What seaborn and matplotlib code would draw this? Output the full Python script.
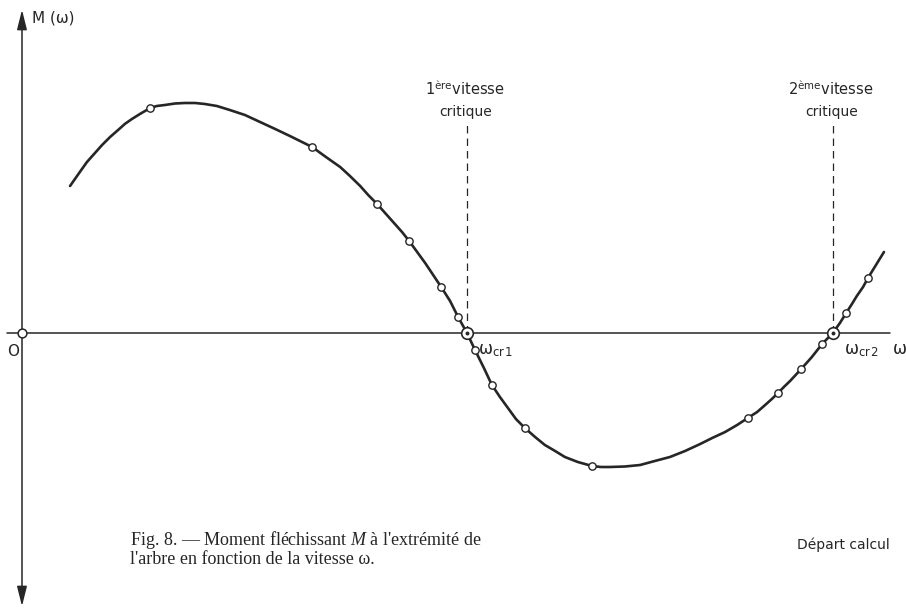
import numpy as np
import pandas as pd
import seaborn as sns
import matplotlib.pyplot as plt

# courbe M(omega), omega rapporté à omega_cr1
omega = [0.108, 0.119, 0.130, 0.146, 0.164, 0.180, 0.198, 0.216, 0.231, 0.247,
         0.265, 0.288, 0.303, 0.321, 0.344, 0.366, 0.389, 0.411, 0.438, 0.467,
         0.501, 0.535, 0.569, 0.602, 0.627, 0.652, 0.683, 0.715, 0.737, 0.760,
         0.778, 0.798, 0.818, 0.838, 0.854, 0.870, 0.888, 0.906, 0.924, 0.942,
         0.962, 0.980, 1.000, 1.018, 1.038, 1.056, 1.074, 1.092, 1.110, 1.130,
         1.153, 1.175, 1.198, 1.220, 1.249, 1.281, 1.301, 1.321, 1.355, 1.389,
         1.422, 1.456, 1.490, 1.524, 1.551, 1.580, 1.607, 1.631, 1.652, 1.670,
         1.685, 1.699, 1.712, 1.726, 1.751, 1.775, 1.798, 1.822, 1.838, 1.852,
         1.865, 1.876, 1.890, 1.901, 1.919, 1.937]
moment = [1.47, 1.54, 1.61, 1.71, 1.80, 1.88, 1.96, 2.03, 2.09, 2.14,
          2.19, 2.25, 2.27, 2.28, 2.295, 2.30, 2.30, 2.29, 2.27, 2.23,
          2.18, 2.11, 2.04, 1.97, 1.915, 1.86, 1.76, 1.66, 1.57, 1.47,
          1.38, 1.29, 1.19, 1.09, 1.01, 0.92, 0.81, 0.70, 0.58, 0.46,
          0.32, 0.16, 0.00, -0.17, -0.35, -0.52, -0.64, -0.75, -0.86, -0.95,
          -1.04, -1.12, -1.18, -1.24, -1.29, -1.33, -1.34, -1.34, -1.335, -1.32,
          -1.28, -1.24, -1.18, -1.11, -1.05, -0.99, -0.92, -0.85, -0.79, -0.72,
          -0.66, -0.60, -0.54, -0.48, -0.36, -0.24, -0.11, 0.00, 0.10, 0.20,
          0.29, 0.37, 0.46, 0.55, 0.68, 0.81]

# points calculés
omega_pts = [0.288, 0.652, 0.798, 0.870, 0.942, 0.980, 1.018, 1.056, 1.130, 1.281,
             1.631, 1.699, 1.751, 1.798, 1.852, 1.901]
moment_pts = [2.25, 1.86, 1.29, 0.92, 0.46, 0.16, -0.17, -0.52, -0.95, -1.33,
              -0.85, -0.60, -0.36, -0.11, 0.20, 0.55]

omega_cr = [1.000, 1.822]
cr_labels = ["1", "2"]
cr_ordinals = ["ère", "ème"]

ink = "#262626"

sns.set_theme(style="white")
plt.rcParams['font.family'] = ['DejaVu Sans']
plt.rcParams['mathtext.fontset'] = 'custom'
plt.rcParams['mathtext.rm'] = 'Liberation Serif'
plt.rcParams['mathtext.it'] = 'Liberation Serif:italic'
plt.rcParams['mathtext.sf'] = 'DejaVu Sans'

fig = plt.figure(figsize=(9.06, 6.14), dpi=100)
ax = fig.add_axes([0, 0, 1, 1])
ax.set_xlim(-0.0494, 1.9865)
ax.set_ylim(-2.81, 3.33)
ax.axis("off")

# axes avec flèches
head = "-|>,head_length=1.0,head_width=0.25"
ax.plot([-0.033, 1.95], [0, 0], color=ink, lw=1.1)
ax.annotate("", xy=(1.99, 0), xytext=(1.94, 0),
            arrowprops=dict(arrowstyle=head, color=ink, lw=1.1))
ax.plot([0, 0], [-2.65, 3.15], color=ink, lw=1.1)
ax.annotate("", xy=(0, 3.26), xytext=(0, 3.05),
            arrowprops=dict(arrowstyle=head, color=ink, lw=1.1))
ax.annotate("", xy=(0, -2.76), xytext=(0, -2.55),
            arrowprops=dict(arrowstyle=head, color=ink, lw=1.1))

# vitesses critiques
for w in omega_cr:
    ax.plot([w, w], [0, 2.08], color=ink, lw=0.9, ls=(0, (6, 4)))

sns.lineplot(x=omega, y=moment, sort=False, color=ink, lw=1.9, ax=ax,
             estimator=None, solid_joinstyle="round", solid_capstyle="round")
sns.scatterplot(x=omega_pts, y=moment_pts, s=28, color="white",
                edgecolor=ink, linewidth=1.0, zorder=5, ax=ax)
sns.scatterplot(x=omega_cr, y=[0, 0], s=70, color="white",
                edgecolor=ink, linewidth=1.2, zorder=5, ax=ax)
sns.scatterplot(x=omega_cr, y=[0, 0], s=8, color=ink,
                edgecolor=ink, linewidth=0, zorder=6, ax=ax)
sns.scatterplot(x=[0], y=[0], s=40, color="white",
                edgecolor=ink, linewidth=1.1, zorder=5, ax=ax)

fs = 10
ax.text(0.0225, 3.15, "M (ω)", fontsize=fs + 1, color=ink, va="center", ha="left")
ax.text(-0.020, -0.19, "O", fontsize=fs + 1, color=ink, va="center", ha="center")
ax.text(1.958, -0.16, "ω", fontsize=fs + 2, color=ink, va="center", ha="left")

for w, n, o in zip(omega_cr, cr_labels, cr_ordinals):
    ax.text(w - 0.005, 2.45, n + "$^{\\mathsf{" + o + "}}$vitesse", fontsize=fs + 0.5,
            color=ink, ha="center", va="center")
    ax.text(w - 0.003, 2.21, "critique", fontsize=fs, color=ink,
            ha="center", va="center")
    ax.text(w + 0.025, -0.17, "ω$_{\\mathsf{cr\\," + n + "}}$", fontsize=fs + 2,
            color=ink, ha="left", va="center")

ax.text(0.243, -2.155,
        "Fig. 8. — Moment fléchissant $M$ à l'extrémité de\n"
        "l'arbre en fonction de la vitesse ω.",
        fontsize=13, family=['Liberation Serif', 'DejaVu Serif'], color=ink,
        ha="left", va="center", linespacing=0.95)
ax.text(1.742, -2.12, "Départ calcul", fontsize=fs, color=ink,
        ha="left", va="center")

fig.savefig("out.png", dpi=100, facecolor="white")
